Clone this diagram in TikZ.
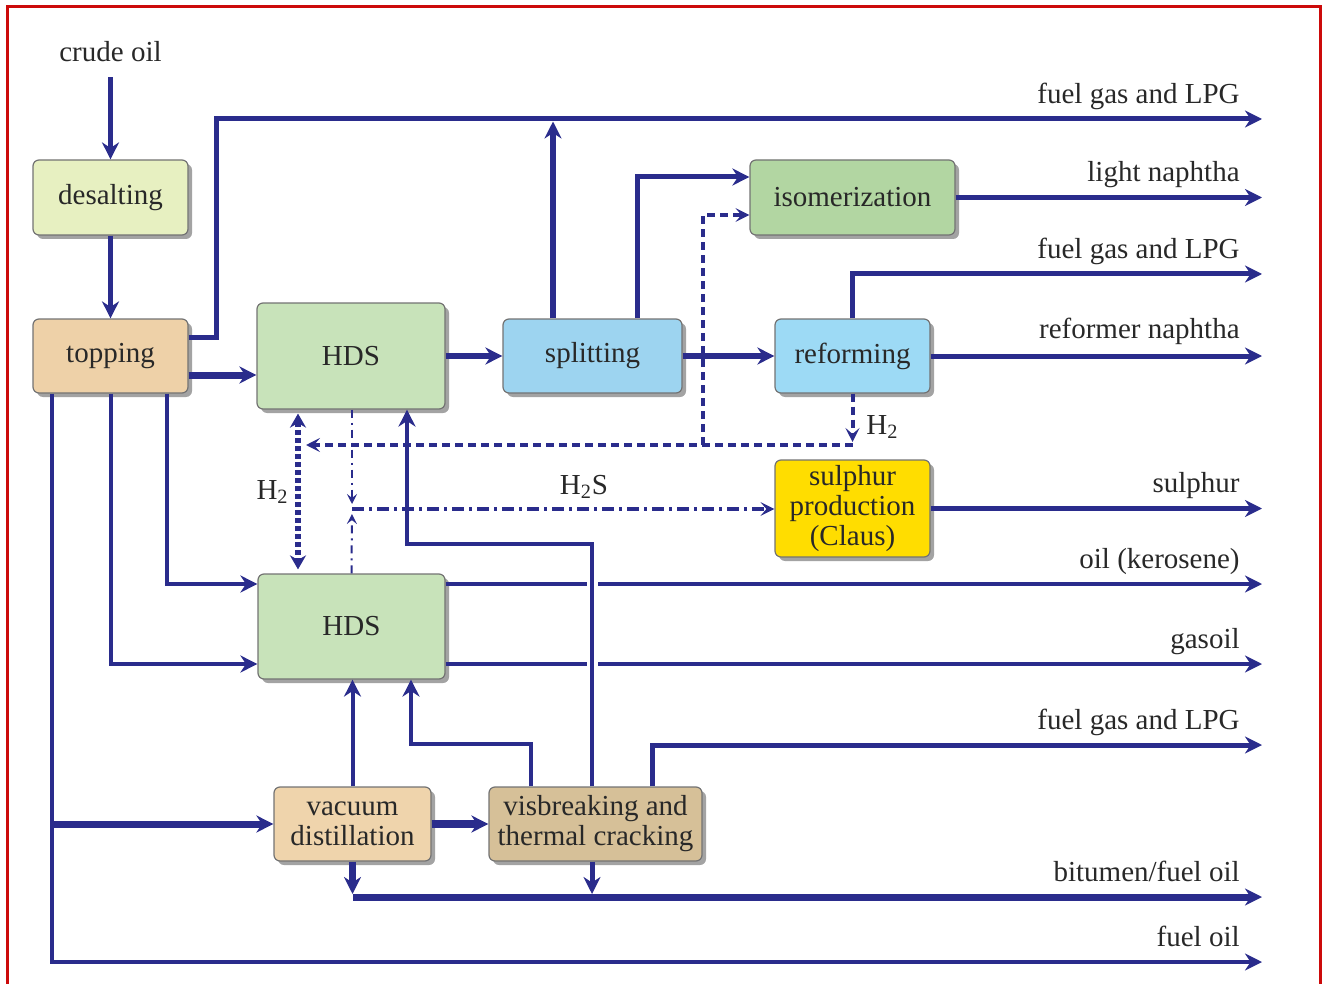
\documentclass[tikz,border=0pt]{standalone}
\usepackage{fontspec}
\setmainfont{Liberation Serif}
\usetikzlibrary{arrows.meta,positioning,calc,shadows}

\definecolor{pipe}{RGB}{42,44,140}
\definecolor{frame}{RGB}{204,10,10}
\definecolor{txt}{RGB}{40,40,40}
\definecolor{cDesalt}{RGB}{231,240,193}
\definecolor{cTop}{RGB}{238,209,168}
\definecolor{cHds}{RGB}{200,227,186}
\definecolor{cSplit}{RGB}{157,212,240}
\definecolor{cIsom}{RGB}{178,214,162}
\definecolor{cReform}{RGB}{157,218,245}
\definecolor{cClaus}{RGB}{255,221,0}
\definecolor{cVac}{RGB}{239,212,172}
\definecolor{cVisb}{RGB}{214,192,152}

\begin{document}
\begin{tikzpicture}[x=0.5pt, y=-0.5pt, font=\fontsize{14.5}{15}\selectfont, text=txt,
  >={Stealth[length=8.5pt,width=8.5pt]},
  unit/.style={draw=black!55, fill=#1, line width=0.6pt, rounded corners=3pt,
    align=center, inner sep=1pt,
    drop shadow={shadow xshift=2pt, shadow yshift=-2pt, fill=black!45, opacity=0.8}},
  flow/.style={draw=pipe, line width=2.5pt, ->},
  fat/.style={flow, line width=3.5pt},
  slim/.style={flow, line width=2pt},
  hyd/.style={draw=pipe, line width=2pt, dash pattern=on 4pt off 2.5pt,
    >={Stealth[length=7pt,width=7pt,inset=3pt]}, ->},
  hydd/.style={draw=pipe, line width=3pt, dash pattern=on 2.5pt off 1.5pt,
    >={Stealth[length=7pt,width=8pt]}, <->},
  sour/.style={draw=pipe, line width=2pt,
    dash pattern=on 6pt off 2.5pt on 1.5pt off 2.5pt,
    >={Stealth[length=7pt,width=7pt,inset=3pt]}, ->},
  sourthin/.style={sour, line width=1pt,
    dash pattern=on 4pt off 2.5pt on 1pt off 2.5pt,
    >={Stealth[length=5pt,width=5pt,inset=2pt]}},
  lbl/.style={anchor=base east, inner sep=0pt},
  gap/.style={draw=white, line width=5.5pt},
]
\useasboundingbox (0,0) rectangle (1322,984);

%% Frame
\draw[frame, line width=1.5pt] (7,1000) |- (1320,7) -- (1320,1000);

%% Process units
\node[unit=cDesalt, minimum width=77.5pt, minimum height=37.5pt] (desalt) at (110.5,197.5) {desalting};
\node[unit=cTop, minimum width=77.5pt, minimum height=37pt] (topping) at (110.5,356) {topping};
\node[unit=cHds, minimum width=94pt, minimum height=53pt] (hds1) at (351,356) {HDS};
\node[unit=cSplit, minimum width=89.5pt, minimum height=37pt] (split) at (592.5,356) {splitting};
\node[unit=cIsom, minimum width=102.5pt, minimum height=37.5pt] (isom) at (852.5,197.5) {isomerization};
\node[unit=cReform, minimum width=77.5pt, minimum height=37pt] (reform) at (852.5,356) {reforming};
\node[unit=cClaus, minimum width=77.5pt, minimum height=48.5pt] (claus) at (852.5,508.5) {sulphur\\production\\(Claus)};
\node[unit=cHds, minimum width=93.5pt, minimum height=52.5pt] (hds2) at (351.5,626.5) {HDS};
\node[unit=cVac, minimum width=78.5pt, minimum height=37pt] (vacuum) at (352.5,824) {vacuum\\distillation};
\node[unit=cVisb, minimum width=106.5pt, minimum height=37pt] (visb) at (595.5,824) {visbreaking and\\thermal cracking};

%% Feed
\node (crude) at (110.5,52) {crude oil};
\draw[flow, shorten <=4pt] (crude) -- (desalt);
\draw[flow] (desalt) -- (topping);

%% Product ends
\coordinate (oFG1) at (1262,119);
\coordinate (oLN) at (1262,197.5);
\coordinate (oFG2) at (1262,274);
\coordinate (oRN) at (1262,356);
\coordinate (oS) at (1262,508.5);
\coordinate (oK) at (1262,584);
\coordinate (oGO) at (1262,664);
\coordinate (oFG3) at (1262,745);
\coordinate (oBit) at (1262,897);
\coordinate (oFO) at (1262,962);

%% Light ends
\draw[flow] ([yshift=9.5pt]topping.east) -- ++(28,0) |- (oFG1);
\draw[fat] ([yshift=-9.5pt]topping.east) -- ([yshift=-9.5pt]topping.east -| hds1.west);

%% Naphtha train
\draw[flow, line width=3pt] (hds1.east) -- (split.west);
\draw[flow, line width=3pt] (split.east) -- (reform.west);
\coordinate (jFG) at (553,121.5);
\draw[flow, line width=3pt] ([xshift=-19.75pt]split.north) -- (jFG);
\draw[flow] ([xshift=22.25pt]split.north) |- ([yshift=10.25pt]isom.west);
\draw[flow] (isom.east) -- (oLN);
\draw[flow] (reform.north) |- (oFG2);
\draw[flow] (reform.east) -- (oRN);

%% Hydrogen
\coordinate (hR) at (852.5,445);
\coordinate (hJ) at (703,445);
\coordinate (hL) at (306,445);
\draw[hyd] (reform.south) -- ([yshift=1.5pt]hR);
\draw[hyd] (hR) -- (hL);
\draw[hyd] (hJ) |- ([yshift=-8.75pt]isom.west);
\node[anchor=west, inner sep=0pt] (lH2a) at (866,427) {H\textsubscript{2}};
\draw[hydd, shorten <=2pt, shorten >=2pt] ([xshift=-26.5pt]hds1.south) -- ([xshift=-26.75pt]hds2.north);
\node[anchor=east, inner sep=0pt] (lH2b) at (289,492) {H\textsubscript{2}};

%% Sour gas
\coordinate (hS) at (352,509);
\draw[sourthin, shorten >=2.5pt] ([xshift=0.5pt]hds1.south) -- (hS);
\draw[sourthin, shorten >=2.5pt] (hds2.north) -- (hS);
\draw[sour] (hS) -- (hS -| claus.west);
\node (lH2S) at (584,487) {H\textsubscript{2}S};
\draw[flow] (claus.east) -- (oS);

%% Middle distillates
\draw[slim] ([xshift=28.25pt]topping.south) |- ([yshift=21.25pt]hds2.west);
\draw[slim] (topping.south) |- ([yshift=-18.75pt]hds2.west);
\draw[slim] ([yshift=21.25pt]hds2.east) -- (oK);
\draw[slim] ([yshift=-18.75pt]hds2.east) -- (oGO);

%% Visbreaker recycle (crosses the distillate lines)
\draw[gap] ([xshift=-1.75pt]visb.north) ++(0,-20) -- ++(0,-200);
\draw[slim] ([xshift=-1.75pt]visb.north) -- ++(0,-242) -| ([xshift=28pt]hds1.south);

%% Residue
\coordinate (tFO) at ([xshift=-29.25pt]topping.south);
\draw[slim] (tFO) |- (oFO);
\draw[fat] (tFO |- vacuum.west) -- (vacuum.west);
\draw[slim] (vacuum.north) -- (vacuum.north |- hds2.south);
\draw[slim] ([xshift=-32.25pt]visb.north) -- ++(0,-42) -| ([xshift=29.75pt]hds2.south);
\draw[flow] ([xshift=28.25pt]visb.north) |- (oFG3);
\draw[fat, line width=4pt] (vacuum.east) -- (visb.west);
\draw[fat] (vacuum.south |- oBit) -- (oBit);
\draw[fat, shorten >=1.5pt] (vacuum.south) -- (vacuum.south |- oBit);
\draw[flow, shorten >=1.5pt] ([xshift=-1.75pt]visb.south) -- ([xshift=-1.75pt]visb.south |- oBit);

%% Product labels
\node[lbl] (lFG1) at (1240,104) {fuel gas and LPG};
\node[lbl] (lLN) at (1240,182) {light naphtha};
\node[lbl] (lFG2) at (1240,259) {fuel gas and LPG};
\node[lbl] (lRN) at (1240,338) {reformer naphtha};
\node[lbl] (lS) at (1240,492) {sulphur};
\node[lbl] (lK) at (1240,568) {oil (kerosene)};
\node[lbl] (lGO) at (1240,648) {gasoil};
\node[lbl] (lFG3) at (1240,729) {fuel gas and LPG};
\node[lbl] (lBit) at (1240,881) {bitumen/fuel oil};
\node[lbl] (lFO) at (1240,946) {fuel oil};

\end{tikzpicture}
\end{document}
